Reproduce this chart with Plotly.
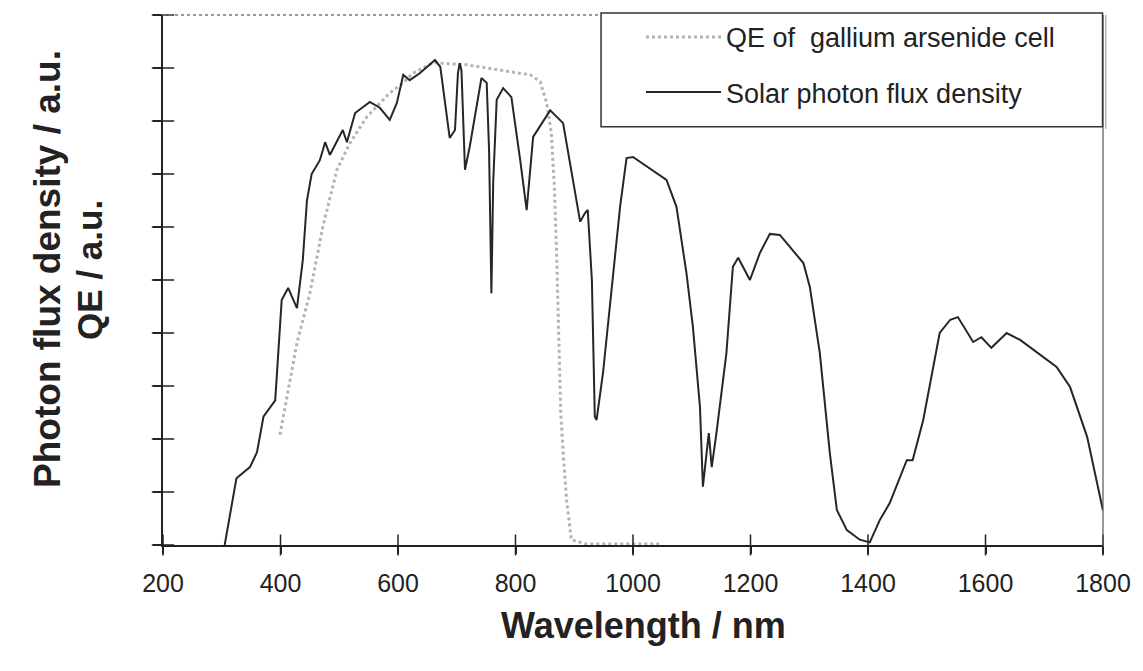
import plotly.graph_objects as go

# Solar photon flux density (a.u.) vs wavelength (nm)
solar_nm = [305, 325, 348, 360, 371, 391, 402, 413, 428, 438, 445, 453, 467, 476, 484,
            506, 513, 527, 552, 569, 586, 598, 609, 620, 637, 663, 672, 688, 697, 702,
            705, 708, 714, 722, 742, 751, 755, 759, 762, 768, 779, 793, 808, 819, 830,
            859, 881, 910, 918, 923, 930, 935, 938, 949, 978, 989, 1000, 1057, 1074,
            1091, 1102, 1114, 1119, 1125, 1129, 1134, 1142, 1159, 1170, 1179, 1199,
            1216, 1233, 1250, 1290, 1301, 1318, 1335, 1347, 1364, 1386, 1403, 1420,
            1437, 1466, 1476, 1494, 1522, 1540, 1553, 1579, 1593, 1610, 1636, 1659,
            1721, 1744, 1773, 1800]
solar_flux = [0.0, 1.26, 1.47, 1.75, 2.42, 2.73, 4.62, 4.85, 4.47, 5.38, 6.5, 7.0, 7.26, 7.6, 7.36,
              7.83, 7.6, 8.15, 8.36, 8.25, 8.02, 8.34, 8.87, 8.77, 8.9, 9.15, 9.02, 7.68, 7.83, 8.9,
              9.09, 8.96, 7.08, 7.51, 8.81, 8.72, 7.45, 4.75, 6.83, 8.4, 8.62, 8.45, 7.26, 6.32, 7.7,
              8.2, 7.96, 6.1, 6.26, 6.32, 5.0, 2.42, 2.36, 3.25, 6.38, 7.3, 7.32, 6.89, 6.38,
              5.13, 4.11, 2.6, 1.1, 1.74, 2.11, 1.47, 2.11, 3.62, 5.25, 5.42, 5.0,
              5.51, 5.87, 5.85, 5.32, 4.87, 3.62, 1.74, 0.66, 0.28, 0.1, 0.05, 0.47,
              0.79, 1.6, 1.6, 2.36, 4.0, 4.25, 4.3, 3.83, 3.92, 3.72, 4.0, 3.87,
              3.36, 2.98, 2.04, 0.65]

# Quantum efficiency of GaAs cell (a.u.)
qe_nm = [399, 428, 450, 472, 496, 518, 547, 586, 609, 625, 660, 717, 774, 825, 842,
         853, 861, 866, 870, 873, 877, 882, 887, 895, 920, 1050]
qe_val = [2.08, 3.81, 4.75, 6.0, 7.08, 7.58, 8.08, 8.53, 8.72, 8.9, 9.1, 9.06, 8.96, 8.87, 8.74,
          8.34, 7.77, 6.8, 5.5, 4.0, 2.5, 1.6, 0.85, 0.1, 0.02, 0.02]

x_ticks = [200, 400, 600, 800, 1000, 1200, 1400, 1600, 1800]
y_ticks = [0, 1, 2, 3, 4, 5, 6, 7, 8, 9, 10]
X_MIN, X_MAX = 200, 1800
Y_MIN, Y_MAX = 0, 10

FONT = "Liberation Sans, Arial, sans-serif"

fig = go.Figure()
fig.add_trace(go.Scatter(x=qe_nm, y=qe_val, mode="lines", name="QE of  gallium arsenide cell",
                         legendgroup="qe",
                         line=dict(color="#b4b4b4", width=3, dash="dot")))
fig.add_trace(go.Scatter(x=solar_nm, y=solar_flux, mode="lines", name="Solar photon flux density",
                         legendgroup="solar",
                         line=dict(color="#262626", width=2)))
# tick marks that cross the axis lines (both inside and outside), placed at the tick values
fig.add_trace(go.Scatter(x=x_ticks, y=[Y_MIN] * len(x_ticks), mode="markers", showlegend=False,
                         hoverinfo="skip", cliponaxis=False,
                         marker=dict(symbol="line-ns", size=15,
                                     line=dict(color="#222", width=1.5))))
fig.add_trace(go.Scatter(x=[X_MIN] * len(y_ticks), y=y_ticks, mode="markers", showlegend=False,
                         hoverinfo="skip", cliponaxis=False,
                         marker=dict(symbol="line-ew", size=16,
                                     line=dict(color="#222", width=1.5))))

fig.update_layout(
    width=1143, height=671,
    margin=dict(l=163, r=40, t=15, b=126),
    paper_bgcolor="white", plot_bgcolor="white",
    font=dict(family=FONT, color="#222"),
    showlegend=True,
    legend=dict(x=0.5085, xanchor="left", y=1.004, yanchor="top",
                bgcolor="rgba(0,0,0,0)", borderwidth=0,
                font=dict(size=27, family=FONT, color="#222"),
                itemwidth=75, tracegroupgap=17),
    xaxis=dict(range=[X_MIN, X_MAX], tickvals=x_ticks, ticktext=[str(v) for v in x_ticks],
               showgrid=False, zeroline=False, showline=True, linecolor="#222", linewidth=2,
               ticks="outside", ticklen=7, tickwidth=1.5, tickcolor="#222",
               ticklabelstandoff=8,
               tickfont=dict(size=25, family=FONT, color="#222")),
    yaxis=dict(range=[Y_MIN, Y_MAX], tickvals=y_ticks, showticklabels=False,
               showgrid=False, zeroline=False, showline=True, linecolor="#222", linewidth=2,
               ticks="outside", ticklen=8, tickwidth=1.5, tickcolor="#222"),
    shapes=[
        dict(type="line", xref="paper", yref="paper", x0=0, x1=1, y0=1, y1=1,
             line=dict(color="#777", width=1.5, dash="dot")),
        dict(type="line", xref="paper", yref="paper", x0=1, x1=1, y0=0, y1=1,
             line=dict(color="#555", width=1.2)),
        # legend frame
        dict(type="rect", xref="paper", yref="paper", x0=0.466, x1=0.9995, y0=0.789, y1=1.004,
             fillcolor="white", layer="above", line=dict(color="#333", width=1.5)),
        dict(type="line", xref="paper", yref="paper", x0=1.003, x1=1.003, y0=0.785, y1=1.0,
             line=dict(color="#888", width=1)),
    ],
    annotations=[
        dict(text="<b>Wavelength / nm</b>", xref="paper", yref="paper", x=0.511, y=-0.151,
             xanchor="center", yanchor="middle", showarrow=False,
             font=dict(size=36, family=FONT, color="#222")),
        dict(text="<b>Photon flux density / a.u.</b>", xref="paper", yref="paper", x=-0.1223, y=0.521,
             xanchor="center", yanchor="middle", showarrow=False, textangle=-90,
             font=dict(size=37, family=FONT, color="#222")),
        dict(text="<b>QE / a.u.</b>", xref="paper", yref="paper", x=-0.0777, y=0.519,
             xanchor="center", yanchor="middle", showarrow=False, textangle=-90,
             font=dict(size=35, family=FONT, color="#222")),
    ],
)

fig.write_html("out.html")
